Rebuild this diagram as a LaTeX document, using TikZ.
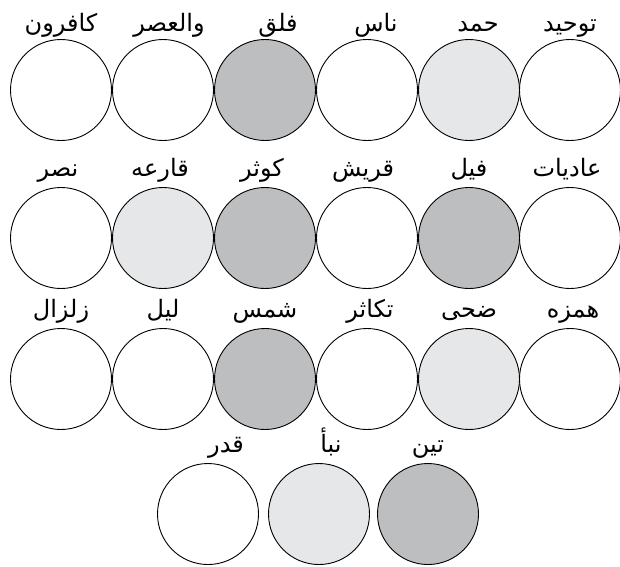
\documentclass[tikz,border=0pt]{standalone}
\usepackage{fontspec}
\usepackage{xcolor}
\usepackage{tikz}
\usetikzlibrary{positioning}
\TeXXeTstate=1
\newfontfamily\arabicfont[Script=Arabic]{DejaVu Sans}
\definecolor{surlight}{RGB}{230,231,232}
\definecolor{surmid}{RGB}{189,190,192}

\begin{document}
\begin{tikzpicture}[x=1pt,y=-1pt,
  disc/.style={circle,draw=black,line width=0.9pt,minimum size=101pt,inner sep=0pt,fill=white},
  lbl/.style={font=\arabicfont\fontsize{24}{28}\selectfont,inner sep=0pt,anchor=base}]
\useasboundingbox (0,0) rectangle (620,566);
% row 1
\node[disc] (c11) at (61,90) {};
\node[disc] (c12) at (163,90) {};
\node[disc,fill=surmid] (c13) at (265,90) {};
\node[disc] (c14) at (367,90) {};
\node[disc,fill=surlight] (c15) at (469,90) {};
\node[disc] (c16) at (570,90) {};
\node[above=8pt of c11,lbl] (l11) {\beginR کافرون\endR};
\node[above=8pt of c12,lbl,xshift=6pt] (l12) {\beginR والعصر\endR};
\node[above=8pt of c13,lbl,xshift=13pt] (l13) {\beginR فلق\endR};
\node[above=8pt of c14,lbl,xshift=9pt] (l14) {\beginR ناس\endR};
\node[above=8pt of c15,lbl,xshift=9pt] (l15) {\beginR حمد\endR};
\node[above=8pt of c16,lbl] (l16) {\beginR توحید\endR};
% row 2
\node[disc] (c21) at (61,238) {};
\node[disc,fill=surlight] (c22) at (163,238) {};
\node[disc,fill=surmid] (c23) at (265,238) {};
\node[disc] (c24) at (367,238) {};
\node[disc,fill=surmid] (c25) at (469,238) {};
\node[disc] (c26) at (570,238) {};
\node[above=11pt of c21,lbl,xshift=-3pt] (l21) {\beginR نصر\endR};
\node[above=11pt of c22,lbl,xshift=-3pt] (l22) {\beginR قارعه\endR};
\node[above=11pt of c23,lbl,xshift=-3pt] (l23) {\beginR کوثر\endR};
\node[above=11pt of c24,lbl,xshift=-4pt] (l24) {\beginR قریش\endR};
\node[above=11pt of c25,lbl] (l25) {\beginR فیل\endR};
\node[above=11pt of c26,lbl,xshift=-3pt] (l26) {\beginR عادیات\endR};
% row 3
\node[disc] (c31) at (61,379) {};
\node[disc] (c32) at (163,379) {};
\node[disc,fill=surmid] (c33) at (265,379) {};
\node[disc] (c34) at (367,379) {};
\node[disc,fill=surlight] (c35) at (469,379) {};
\node[disc] (c36) at (570,379) {};
\node[above=11pt of c31,lbl] (l31) {\beginR زلزال\endR};
\node[above=11pt of c32,lbl] (l32) {\beginR لیل\endR};
\node[above=11pt of c33,lbl] (l33) {\beginR شمس\endR};
\node[above=11pt of c34,lbl,xshift=3pt] (l34) {\beginR تکاثر\endR};
\node[above=11pt of c35,lbl] (l35) {\beginR ضحی\endR};
\node[above=11pt of c36,lbl,xshift=3pt] (l36) {\beginR همزه\endR};
% row 4
\node[disc] (c41) at (208,514) {};
\node[disc,fill=surlight] (c42) at (319,514) {};
\node[disc,fill=surmid] (c43) at (428,514) {};
\node[above=11pt of c41,lbl,xshift=18pt] (l41) {\beginR قدر\endR};
\node[above=11pt of c42,lbl,xshift=12pt] (l42) {\beginR نبأ\endR};
\node[above=11pt of c43,lbl] (l43) {\beginR تین\endR};
\end{tikzpicture}
\end{document}
